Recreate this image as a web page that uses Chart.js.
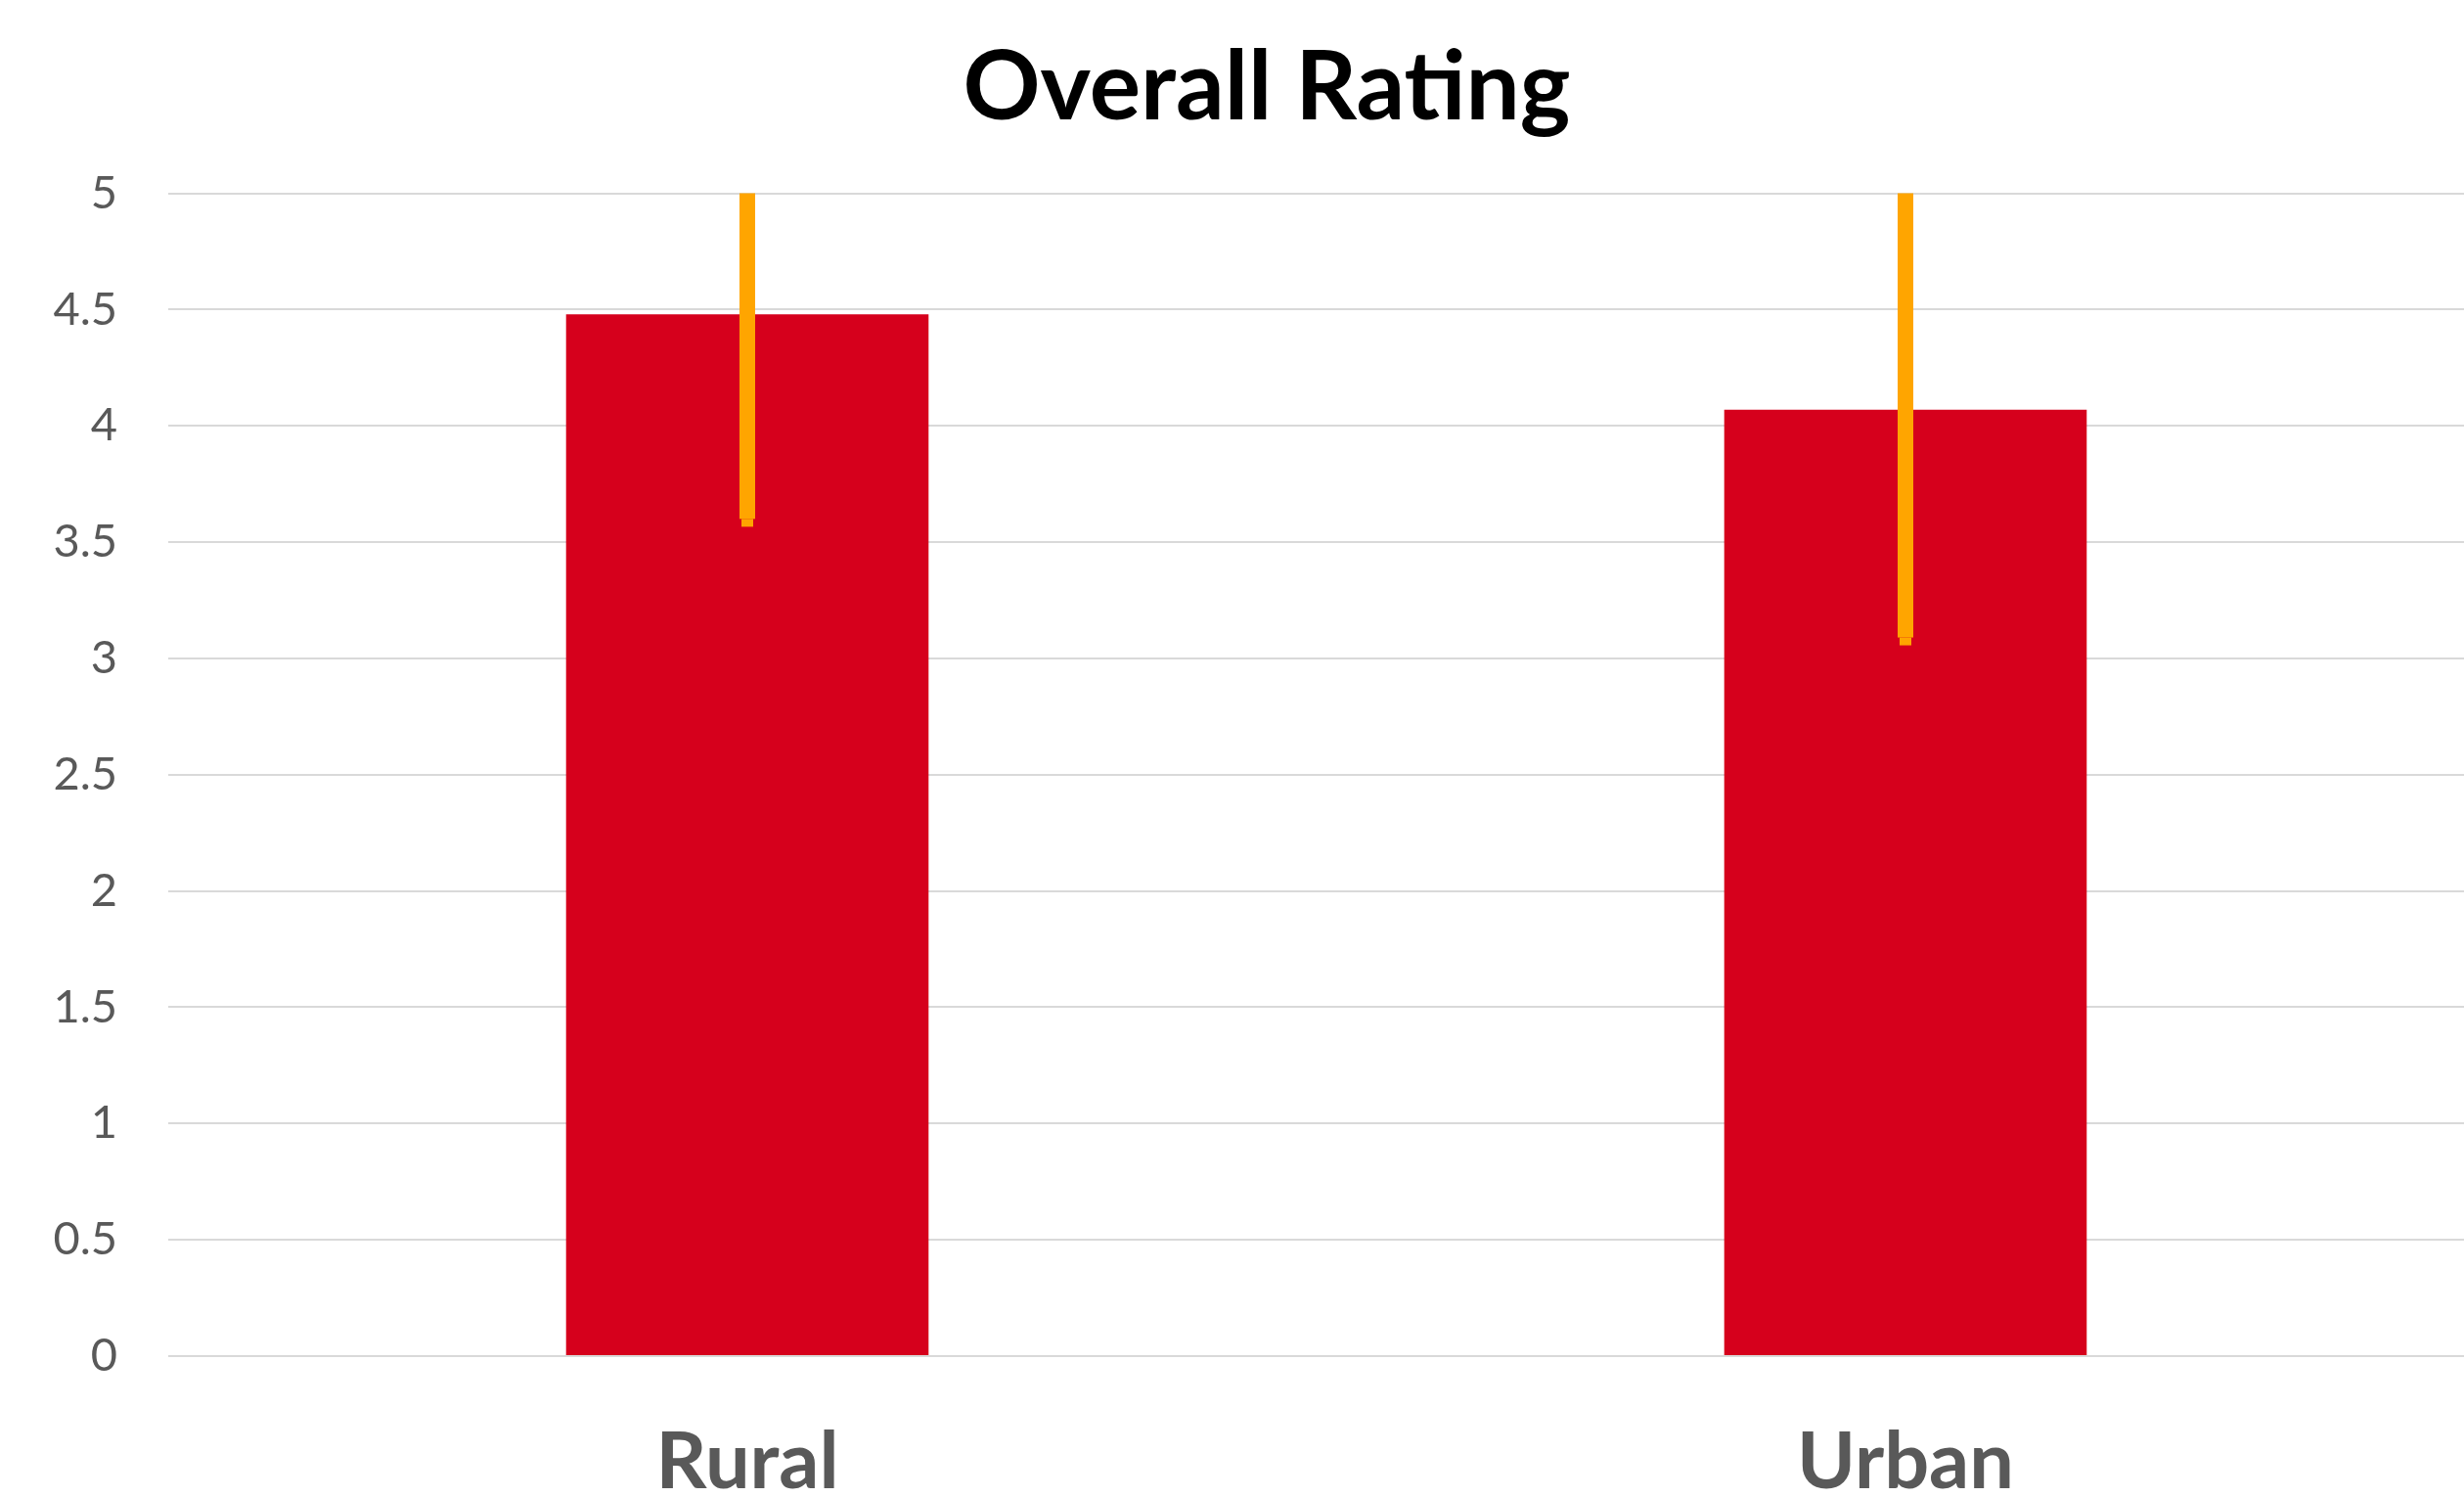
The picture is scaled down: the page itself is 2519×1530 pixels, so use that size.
<!DOCTYPE html>
<html>
<head>
<meta charset="utf-8">
<script src="https://cdn.jsdelivr.net/npm/chart.js@4"></script>
<style>
  html, body { margin: 0; padding: 0; background: #fff; overflow: hidden; }
  #wrap { width: 2610px; height: 1530px; }
</style>
</head>
<body>
<div id="wrap"><canvas id="ratingChart" width="2610" height="1530"></canvas></div>
<script>
const areas = ['Rural', 'Urban'];
const ratings = [4.48, 4.07];
const errMinus = [0.88, 0.98];
const errPlus = [0.88, 0.98];
const yTicks = [0, 0.5, 1, 1.5, 2, 2.5, 3, 3.5, 4, 4.5, 5];

// error bars drawn on top of the bars, clipped to the plot
const errorBars = {
    id: 'errorBars',
    afterDatasetsDraw(chart) {
        const ctx = chart.ctx;
        const area = chart.chartArea;
        const y = chart.scales.y;
        const meta = chart.getDatasetMeta(0);
        ctx.save();
        ctx.beginPath();
        ctx.rect(area.left, area.top, area.right - area.left, area.bottom - area.top);
        ctx.clip();
        ctx.fillStyle = '#FFA500';
        meta.data.forEach((bar, i) => {
            const hi = y.getPixelForValue(ratings[i] + errPlus[i]);
            const lo = y.getPixelForValue(ratings[i] - errMinus[i]);
            ctx.fillRect(bar.x - 8, hi, 16, lo - hi);
            ctx.fillRect(bar.x - 6, lo, 12, 8);
        });
        ctx.restore();
    }
};

new Chart(document.getElementById('ratingChart'), {
    type: 'bar',
    data: {
        labels: areas,
        datasets: [{
            data: ratings,
            backgroundColor: '#D6001C',
            borderWidth: 0,
            barPercentage: 0.313,
            categoryPercentage: 1
        }]
    },
    options: {
        responsive: false,
        animation: false,
        devicePixelRatio: 1,
        layout: { padding: { left: 50, right: 70, top: 0, bottom: 0 } },
        plugins: {
            legend: { display: false },
            tooltip: { enabled: false },
            title: {
                display: true,
                text: 'Overall Rating',
                color: '#000000',
                font: { family: 'Lato', size: 98, weight: 'bold' },
                padding: { top: 32, bottom: 48 }
            }
        },
        scales: {
            x: {
                grid: { display: false },
                border: { display: false },
                ticks: {
                    color: '#595959',
                    padding: 52,
                    font: { family: 'Lato', size: 81, weight: 'bold' }
                },
                afterFit(s) { s.height = 144; }
            },
            y: {
                min: 0,
                max: 5,
                afterBuildTicks(s) { s.ticks = yTicks.map(v => ({ value: v })); },
                grid: { color: '#D9D9D9', lineWidth: 2, drawTicks: false },
                border: { display: false },
                ticks: {
                    color: '#595959',
                    padding: 52,
                    font: { family: 'Lato', size: 47 },
                    callback: (v) => String(v)
                },
                afterFit(s) { s.width = 122; }
            }
        }
    },
    plugins: [errorBars]
});
</script>
</body>
</html>
